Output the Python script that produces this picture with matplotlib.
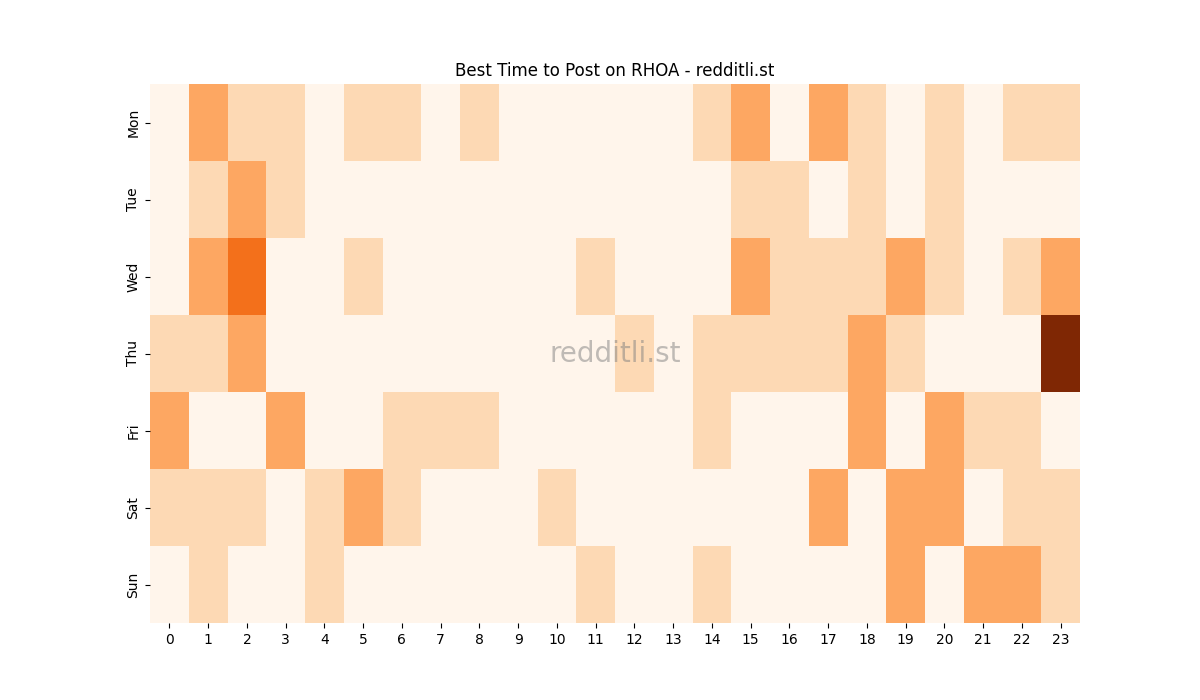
import numpy as np
import matplotlib
matplotlib.use("Agg")
import matplotlib.pyplot as plt
import seaborn as sns

days = ["Mon", "Tue", "Wed", "Thu", "Fri", "Sat", "Sun"]
hours = list(range(24))

# posts per hour slot, one row per weekday
mon = [0, 2, 1, 1, 0, 1, 1, 0, 1, 0, 0, 0, 0, 0, 1, 2, 0, 2, 1, 0, 1, 0, 1, 1]
tue = [0, 1, 2, 1, 0, 0, 0, 0, 0, 0, 0, 0, 0, 0, 0, 1, 1, 0, 1, 0, 1, 0, 0, 0]
wed = [0, 2, 3, 0, 0, 1, 0, 0, 0, 0, 0, 1, 0, 0, 0, 2, 1, 1, 1, 2, 1, 0, 1, 2]
thu = [1, 1, 2, 0, 0, 0, 0, 0, 0, 0, 0, 0, 1, 0, 1, 1, 1, 1, 2, 1, 0, 0, 0, 5]
fri = [2, 0, 0, 2, 0, 0, 1, 1, 1, 0, 0, 0, 0, 0, 1, 0, 0, 0, 2, 0, 2, 1, 1, 0]
sat = [1, 1, 1, 0, 1, 2, 1, 0, 0, 0, 1, 0, 0, 0, 0, 0, 0, 2, 0, 2, 2, 0, 1, 1]
sun = [0, 1, 0, 0, 1, 0, 0, 0, 0, 0, 0, 1, 0, 0, 1, 0, 0, 0, 0, 2, 0, 2, 2, 1]

data = np.array([mon, tue, wed, thu, fri, sat, sun])

fig, ax = plt.subplots(figsize=(12, 7), dpi=100)
sns.heatmap(data, cmap="Oranges", cbar=False, ax=ax,
            xticklabels=hours, yticklabels=days)
ax.set_title("Best Time to Post on RHOA - redditli.st")
ax.text(0.5, 0.5, "redditli.st", transform=ax.transAxes, ha="center",
        va="center", fontsize=20, color="grey", alpha=0.5)
plt.yticks(rotation=90, va="center")
plt.xticks(rotation=0)

plt.savefig("out.png")
